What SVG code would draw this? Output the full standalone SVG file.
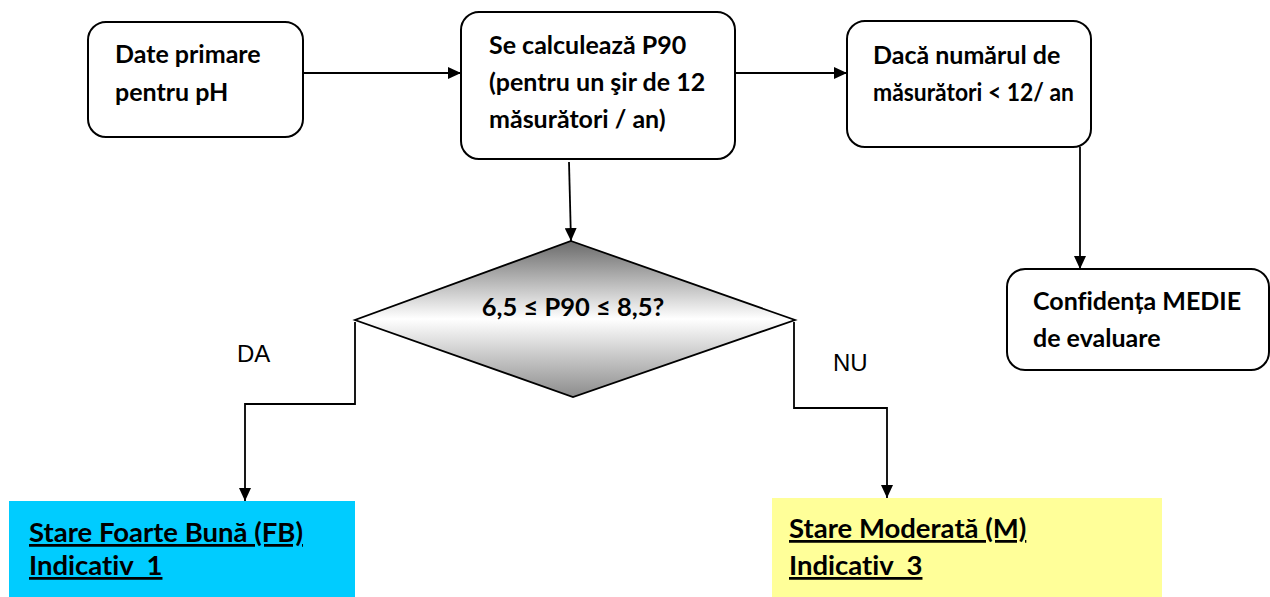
<svg xmlns="http://www.w3.org/2000/svg" width="1270" height="597" viewBox="0 0 1270 597">
<style>
.box{fill:#fff;stroke:#000;stroke-width:2}
.t{font-family:Lato,"Liberation Sans",sans-serif;font-weight:700;font-size:25px;fill:#000;font-variant-ligatures:none}
.r{font-family:Lato,"Liberation Sans",sans-serif;font-weight:700;font-size:27.5px;fill:#000;text-decoration:underline;font-variant-ligatures:none}
.lbl{font-family:"Liberation Sans",Arial,sans-serif;font-size:24px;fill:#000}
.c{fill:none;stroke:#000;stroke-width:1.8}
</style>
<defs>
<marker id="ah" viewBox="0 0 13 12" refX="13" refY="6" markerWidth="13" markerHeight="12" markerUnits="userSpaceOnUse" orient="auto">
<path d="M0,0 L13,6 L0,12 Z" fill="#000"/>
</marker>
<linearGradient id="dg" x1="0" y1="0" x2="0" y2="1">
<stop offset="0" stop-color="#6a6a6a"/>
<stop offset="0.5" stop-color="#ffffff"/>
<stop offset="1" stop-color="#8c8c8c"/>
</linearGradient>
</defs>
<g id="connectors">
<path class="c" d="M303,73 L461,73" marker-end="url(#ah)"/>
<path class="c" d="M735,73 L847,73" marker-end="url(#ah)"/>
<path class="c" d="M569,162 L571,241" marker-end="url(#ah)"/>
<path class="c" d="M1080,147 L1080,269" marker-end="url(#ah)"/>
<path class="c" d="M355,322 L355,404 L245,404 L245,501" marker-end="url(#ah)"/>
<path class="c" d="M794,322 L794,408 L887,408 L887,498" marker-end="url(#ah)"/>
<text class="lbl" x="237" y="362">DA</text>
<text class="lbl" x="833" y="371">NU</text>
</g>
<g id="n1">
<rect class="box" x="88" y="22" width="215" height="115" rx="18"/>
<text class="t" x="115" y="63">Date primare</text>
<text class="t" x="115" y="101">pentru pH</text>
</g>
<g id="n2">
<rect class="box" x="461" y="12" width="274" height="147" rx="18"/>
<text class="t" x="489" y="54">Se calculează P90</text>
<text class="t" x="489" y="91">(pentru un şir de 12</text>
<text class="t" x="489" y="128">măsurători / an)</text>
</g>
<g id="n3">
<rect class="box" x="847" y="21" width="244" height="126" rx="18"/>
<text class="t" x="873" y="64">Dacă numărul de</text>
<text class="t" x="873" y="101" textLength="201" lengthAdjust="spacingAndGlyphs">măsurători &lt; 12/ an</text>
</g>
<g id="n4">
<rect class="box" x="1007" y="269" width="262" height="101" rx="18"/>
<text class="t" x="1033" y="310">Confidența MEDIE</text>
<text class="t" x="1033" y="347">de evaluare</text>
</g>
<g id="n5">
<polygon points="571,241 795,320 573,397 355,320" fill="url(#dg)" stroke="#000" stroke-width="1.8"/>
<text class="t" x="573" y="316" text-anchor="middle" style="font-size:25.5px">6,5 ≤ P90 ≤ 8,5?</text>
</g>
<g id="n6">
<rect x="9" y="501" width="346" height="96" fill="#00ccff"/>
<text class="r" x="29" y="542">Stare Foarte Bună (FB)</text>
<text class="r" x="29" y="575" xml:space="preserve">Indicativ  1</text>
</g>
<g id="n7">
<rect x="772" y="498" width="390" height="99" fill="#ffff99"/>
<text class="r" x="789" y="538">Stare Moderată (M)</text>
<text class="r" x="789" y="575" xml:space="preserve">Indicativ  3</text>
</g>
</svg>
